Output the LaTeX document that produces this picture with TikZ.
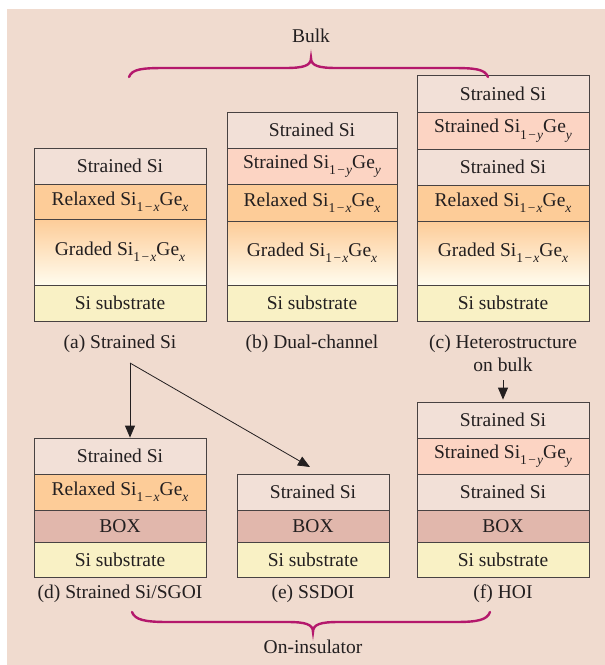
\documentclass[tikz,border=0pt]{standalone}
\usepackage{fontspec}
\setmainfont{Liberation Serif}
\usetikzlibrary{arrows.meta}
\definecolor{bgc}{RGB}{240,219,207}
\definecolor{ssi}{RGB}{242,224,215}
\definecolor{ssige}{RGB}{252,212,195}
\definecolor{relax}{RGB}{253,204,152}
\definecolor{gradtop}{RGB}{253,204,152}
\definecolor{gradbot}{RGB}{255,252,238}
\definecolor{subs}{RGB}{249,241,197}
\definecolor{boxc}{RGB}{225,183,172}
\definecolor{edgec}{RGB}{72,66,66}
\definecolor{txt}{RGB}{35,31,32}
\definecolor{bracec}{RGB}{180,24,108}
\newcommand\sbs[1]{\raisebox{-0.33em}{\fontsize{13.5}{13.5}\selectfont #1}}
\newcommand\sgx{Si\sbs{1\kern1.5pt−\kern1.2pt\textit{x}}Ge\sbs{\textit{x}}}
\newcommand\sgy{Si\sbs{1\kern1.5pt−\kern1.2pt\textit{y}}Ge\sbs{\textit{y}}}
\newcommand\lay[6]{\node[layer,#2,minimum height={(#5-#4)*1pt}] (#1) at (#3,{(#4+#5)/2}) {#6};}
\tikzset{
  layer/.style={draw=edgec,line width=0.8pt,inner sep=0pt,minimum width=172pt,text=txt,
    font=\fontsize{19.5}{23}\selectfont},
  wb/.style={minimum width=170pt},
  we/.style={minimum width=152pt},
  lssi/.style={fill=ssi},
  lssige/.style={fill=ssige},
  lrelax/.style={fill=relax},
  lgraded/.style={top color=gradtop,bottom color=gradbot},
  lsub/.style={fill=subs},
  lbox/.style={fill=boxc},
  caption/.style={text=txt,font=\fontsize{19.5}{23}\selectfont,inner sep=0pt,align=center},
  arr/.style={draw=txt,line width=0.8pt,-{Triangle[length=12pt,width=10pt]}},
  brace/.style={draw=bracec,line width=2.4pt,line cap=round}
}
\begin{document}
\begin{tikzpicture}[x=1pt,y=-1pt]
\useasboundingbox (0,0) rectangle (605,665);
\fill[bgc] (7,9) rectangle (605,665);
% (a)
\lay{a1}{lssi}{120}{148}{184}{Strained Si}
\lay{a2}{lrelax}{120}{184}{219}{Relaxed \sgx}
\lay{a3}{lgraded}{120}{219}{285}{Graded \sgx}
\lay{a4}{lsub}{120}{285}{321}{Si substrate}
\node[caption] (acap) at (120,344) {(a) Strained Si};
% (b)
\lay{b1}{lssi,wb}{312}{112}{148}{Strained Si}
\lay{b2}{lssige,wb}{312}{148}{184}{Strained \sgy}
\lay{b3}{lrelax,wb}{312}{184}{221}{Relaxed \sgx}
\lay{b4}{lgraded,wb}{312}{221}{285}{Graded \sgx}
\lay{b5}{lsub,wb}{312}{285}{321}{Si substrate}
\node[caption] (bcap) at (312,344) {(b) Dual-channel};
% (c)
\lay{c1}{lssi}{503}{75}{112}{Strained Si}
\lay{c2}{lssige}{503}{112}{149}{Strained \sgy}
\lay{c3}{lssi}{503}{149}{185}{Strained Si}
\lay{c4}{lrelax}{503}{185}{221}{Relaxed \sgx}
\lay{c5}{lgraded}{503}{221}{285}{Graded \sgx}
\lay{c6}{lsub}{503}{285}{321}{Si substrate}
\node[caption,baseline=0pt] (ccap) at (503,353.5) {(c) Heterostructure\\on bulk};
% (d)
\lay{d1}{lssi}{120}{438}{474}{Strained Si}
\lay{d2}{lrelax}{120}{474}{510}{Relaxed \sgx}
\lay{d3}{lbox}{120}{510}{542}{BOX}
\lay{d4}{lsub}{120}{542}{577}{Si substrate}
\node[caption] (dcap) at (120,594) {(d) Strained Si/SGOI};
% (e)
\lay{e1}{lssi,we}{313}{474}{510}{Strained Si}
\lay{e2}{lbox,we}{313}{510}{542}{BOX}
\lay{e3}{lsub,we}{313}{542}{577}{Si substrate}
\node[caption] (ecap) at (313,594) {(e) SSDOI};
% (f)
\lay{f1}{lssi}{503}{402}{438}{Strained Si}
\lay{f2}{lssige}{503}{438}{474}{Strained \sgy}
\lay{f3}{lssi}{503}{474}{510}{Strained Si}
\lay{f4}{lbox}{503}{510}{542}{BOX}
\lay{f5}{lsub}{503}{542}{577}{Si substrate}
\node[caption] (fcap) at (503,594) {(f) HOI};
% arrows
\coordinate (split) at (130,363);
\coordinate (etip) at (310,467);
\coordinate (cstart) at (503,380);
\draw[arr] (split) -- (split |- d1.north);
\draw[arr] (split) -- (etip);
\draw[arr] (cstart) -- ([yshift=2pt]f1.north);
% braces
\node[caption] (bulk) at (311,36) {Bulk};
\draw[brace] (129,77) .. controls (132,69) and (142,68) .. (165,68) -- (285,68)
  .. controls (303,68) and (311,66) .. (311,58)
  .. controls (311,66) and (319,68) .. (337,68) -- (452,68)
  .. controls (475,68) and (485,69) .. (488,77);
\node[caption] (onins) at (313,647) {On-insulator};
\draw[brace] (132,612) .. controls (135,620) and (145,622) .. (168,622) -- (287,622)
  .. controls (305,622) and (313,624) .. (313,632)
  .. controls (313,624) and (321,622) .. (339,622) -- (455,622)
  .. controls (478,622) and (487,620) .. (490,612);
\end{tikzpicture}
\end{document}
